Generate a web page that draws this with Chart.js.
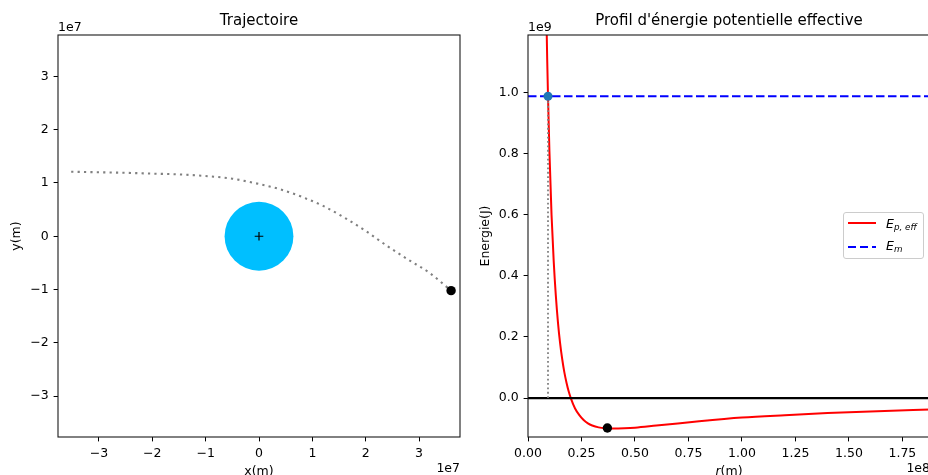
<!DOCTYPE html>
<html>
<head>
<meta charset="utf-8">
<script src="https://cdn.jsdelivr.net/npm/chart.js@4.4.1/dist/chart.umd.min.js"></script>
<style>
html, body { margin: 0; padding: 0; width: 928px; height: 475px; overflow: hidden; background: #fff; }
#left { position: absolute; left: 0; top: 0; }
#right { position: absolute; left: 470px; top: 0; }
#legend {
    position: absolute; left: 843px; top: 212px; width: 81px; height: 47px;
    box-sizing: border-box; border: 1px solid #cccccc; border-radius: 3px;
    background: rgba(255, 255, 255, 0.8); z-index: 2;
    font-family: "DejaVu Sans"; color: #000;
}
#legend span { position: absolute; white-space: nowrap; line-height: 1; font-style: italic; }
#legend .big { font-size: 12.5px; }
#legend .sub { font-size: 8.75px; }
#legend .sw { position: absolute; left: 4px; width: 28px; height: 2px; }
</style>
</head>
<body>
<canvas id="left" width="470" height="480"></canvas>
<canvas id="right" width="480" height="480"></canvas>
<div id="legend">
    <div class="sw" style="top: 9.3px; background: #ff0000;"></div>
    <span class="big" style="left: 42px; top: 4.7px;">E</span>
    <span class="sub" style="left: 50px; top: 9.6px;">p, eff</span>
    <div class="sw" style="top: 32.7px; background: repeating-linear-gradient(to right, #0000ff 0 8.5px, transparent 8.5px 12px);"></div>
    <span class="big" style="left: 42px; top: 27.1px;">E</span>
    <span class="sub" style="left: 50px; top: 31.9px;">m</span>
</div>
<script>
const FONT = 'DejaVu Sans';

// trajectoire (m)
const trajX = [-3.52e7, -3.0e7, -2.5e7, -2.0e7, -1.5e7, -1.0e7, -0.5e7, 0.0, 0.4e7, 0.8e7,
    1.2e7, 1.6e7, 2.0e7, 2.4e7, 2.8e7, 3.2e7, 3.6e7];
const trajY = [1.21e7, 1.20e7, 1.19e7, 1.175e7, 1.16e7, 1.13e7, 1.08e7, 0.98e7, 0.88e7, 0.74e7,
    0.57e7, 0.35e7, 0.10e7, -0.18e7, -0.44e7, -0.69e7, -1.02e7];
const posX = [3.6e7];
const posY = [-1.02e7];
const earthRadius = 6.45e6;
const xyTicks = [-3e7, -2e7, -1e7, 0, 1e7, 2e7, 3e7];
const xyTickLabels = ['\u22123', '\u22122', '\u22121', '0', '1', '2', '3'];

// profil d'energie
const rVals = [0.75e7, 0.85e7, 0.9e7, 0.935e7, 1.0e7, 1.1e7, 1.2e7, 1.3e7, 1.4e7, 1.5e7,
    1.6e7, 1.7e7, 1.8e7, 1.9e7, 2.0e7, 2.2e7, 2.4e7, 2.6e7, 2.8e7, 3.0e7,
    3.3e7, 3.7e7, 4.0e7, 4.5e7, 5.0e7, 6.0e7, 7.0e7, 8.0e7, 1.0e8, 1.2e8,
    1.4e8, 1.6e8, 1.8e8, 2.0e8];
const epVals = [1.80e9, 1.29e9, 1.10e9, 0.988e9, 0.81e9, 0.60e9, 0.45e9, 0.336e9, 0.248e9, 0.18e9,
    0.127e9, 0.084e9, 0.05e9, 0.022e9, 0.0, -0.034e9, -0.056e9, -0.072e9, -0.083e9, -0.09e9,
    -0.096e9, -0.099e9, -0.1e9, -0.099e9, -0.097e9, -0.09e9, -0.083e9, -0.076e9, -0.064e9, -0.056e9,
    -0.049e9, -0.044e9, -0.039e9, -0.036e9];
const emLevel = 0.988e9;
const rPeri = 0.935e7;
const rNow = 0.371e8;
const epNow = -0.098e9;
const rSpan = [0, 2e8];
const rTicks = [0, 0.25e8, 0.5e8, 0.75e8, 1e8, 1.25e8, 1.5e8, 1.75e8];
const rTickLabels = ['0.00', '0.25', '0.50', '0.75', '1.00', '1.25', '1.50', '1.75'];
const eTicks = [0, 0.2e9, 0.4e9, 0.6e9, 0.8e9, 1.0e9];
const eTickLabels = ['0.0', '0.2', '0.4', '0.6', '0.8', '1.0'];

const pts = (xs, ys) => xs.map((x, i) => ({x: x, y: ys[i]}));
const tickFont = {family: FONT, size: 12.5};

// cadre + facteurs d'echelle + titre de l'axe x
const framePlugin = {
    id: 'frame',
    afterDraw(chart, args, opts) {
        const ctx = chart.ctx;
        const a = chart.chartArea;
        ctx.save();
        ctx.strokeStyle = '#1a1a1a';
        ctx.lineWidth = 1.1;
        ctx.strokeRect(a.left, a.top, a.right - a.left, a.bottom - a.top);
        ctx.fillStyle = '#000';
        ctx.font = '12.5px "' + FONT + '"';
        ctx.textBaseline = 'alphabetic';
        ctx.textAlign = 'left';
        ctx.fillText(opts.yExp, a.left, a.top - 4.3);
        ctx.textAlign = 'right';
        ctx.fillText(opts.xExp, a.right, a.bottom + 35.4);
        // titre x, en morceaux (italique possible)
        ctx.textAlign = 'left';
        let total = 0;
        opts.xTitle.forEach((p) => {
            ctx.font = (p.italic ? 'italic ' : '') + '12.5px "' + FONT + '"';
            p.w = ctx.measureText(p.text).width;
            total += p.w;
        });
        let x = (a.left + a.right) / 2 - total / 2;
        opts.xTitle.forEach((p) => {
            ctx.font = (p.italic ? 'italic ' : '') + '12.5px "' + FONT + '"';
            ctx.fillText(p.text, x, a.bottom + 37.5);
            x += p.w;
        });
        ctx.restore();
    }
};

function axis(min, max, ticks, labels, fit, title) {
    const s = {
        type: 'linear',
        min: min,
        max: max,
        afterBuildTicks: (sc) => { sc.ticks = ticks.map((v) => ({value: v})); },
        afterFit: fit,
        ticks: {
            callback: (v, i) => labels[i],
            font: tickFont,
            color: '#000',
            padding: 5,
            autoSkip: false,
            maxRotation: 0
        },
        grid: {drawOnChartArea: false, drawTicks: true, tickLength: 4.4, color: '#000', lineWidth: 1},
        border: {display: false}
    };
    if (title) {
        s.title = {display: true, text: title.text, color: '#000', font: tickFont, padding: {top: title.pad, bottom: 0}};
    }
    return s;
}

function baseOptions(titleText, padRight, frame, scales) {
    return {
        responsive: false,
        animation: false,
        layout: {padding: {left: 0, right: padRight, top: 0, bottom: 0}},
        plugins: {
            legend: {display: false},
            tooltip: {enabled: false},
            title: {
                display: true,
                text: titleText,
                fullSize: false,
                color: '#000',
                font: {family: FONT, size: 15, weight: 'normal'},
                padding: {top: 12, bottom: 5}
            },
            frame: frame
        },
        scales: scales
    };
}

new Chart(document.getElementById('left'), {
    type: 'line',
    data: {
        datasets: [
            {
                data: pts(trajX, trajY),
                borderColor: '#808080',
                borderWidth: 2.1,
                borderDash: [2.2, 4.2],
                pointRadius: 0,
                cubicInterpolationMode: 'monotone',
                clip: 0,
                order: 2
            },
            {
                data: pts([0], [0]),
                showLine: false,
                pointRadius: (c) => {
                    const sx = c.chart.scales.x;
                    return Math.abs(sx.getPixelForValue(earthRadius) - sx.getPixelForValue(0));
                },
                backgroundColor: '#00bfff',
                borderWidth: 0,
                order: 3
            },
            {
                data: pts([0], [0]),
                showLine: false,
                pointStyle: 'cross',
                pointRadius: 4.3,
                borderColor: '#000',
                borderWidth: 1.2,
                order: 0
            },
            {
                data: pts(posX, posY),
                showLine: false,
                pointRadius: 4.7,
                backgroundColor: '#000',
                borderWidth: 0,
                order: 1
            }
        ]
    },
    options: baseOptions('Trajectoire', 10,
        {yExp: '1e7', xExp: '1e7', xTitle: [{text: 'x(m)'}]},
        {
            x: axis(-3.767e7, 3.767e7, xyTicks, xyTickLabels, (s) => { s.height = 43; }),
            y: axis(-3.765e7, 3.775e7, xyTicks, xyTickLabels, (s) => { s.width = 58; }, {text: 'y(m)', pad: 9.7})
        }),
    plugins: [framePlugin]
});

new Chart(document.getElementById('right'), {
    type: 'line',
    data: {
        datasets: [
            {
                data: pts(rVals, epVals),
                borderColor: '#ff0000',
                borderWidth: 2,
                pointRadius: 0,
                cubicInterpolationMode: 'monotone',
                clip: 0,
                order: 5
            },
            {
                data: pts(rSpan, [emLevel, emLevel]),
                borderColor: '#0000ff',
                borderWidth: 2,
                borderDash: [8.5, 3.5],
                pointRadius: 0,
                clip: 0,
                order: 4
            },
            {
                data: pts(rSpan, [0, 0]),
                borderColor: '#000',
                borderWidth: 2.3,
                pointRadius: 0,
                clip: 0,
                order: 3
            },
            {
                data: pts([rPeri, rPeri], [0, emLevel]),
                borderColor: '#808080',
                borderWidth: 1.8,
                borderDash: [1.8, 2.6],
                pointRadius: 0,
                clip: 0,
                order: 2
            },
            {
                data: pts([rPeri], [emLevel]),
                showLine: false,
                pointRadius: 4.5,
                backgroundColor: '#1f77b4',
                borderWidth: 0,
                order: 1
            },
            {
                data: pts([rNow], [epNow]),
                showLine: false,
                pointRadius: 4.7,
                backgroundColor: '#000',
                borderWidth: 0,
                order: 0
            }
        ]
    },
    options: baseOptions("Profil d'\u00e9nergie potentielle effective", 20,
        {yExp: '1e9', xExp: '1e8', xTitle: [{text: 'r', italic: true}, {text: '(m)'}]},
        {
            x: axis(0, 1.879e8, rTicks, rTickLabels, (s) => { s.height = 43; }),
            y: axis(-0.1275e9, 1.1886e9, eTicks, eTickLabels, (s) => { s.width = 58; }, {text: 'Energie(J)', pad: 7.8})
        }),
    plugins: [framePlugin]
});
</script>
</body>
</html>
